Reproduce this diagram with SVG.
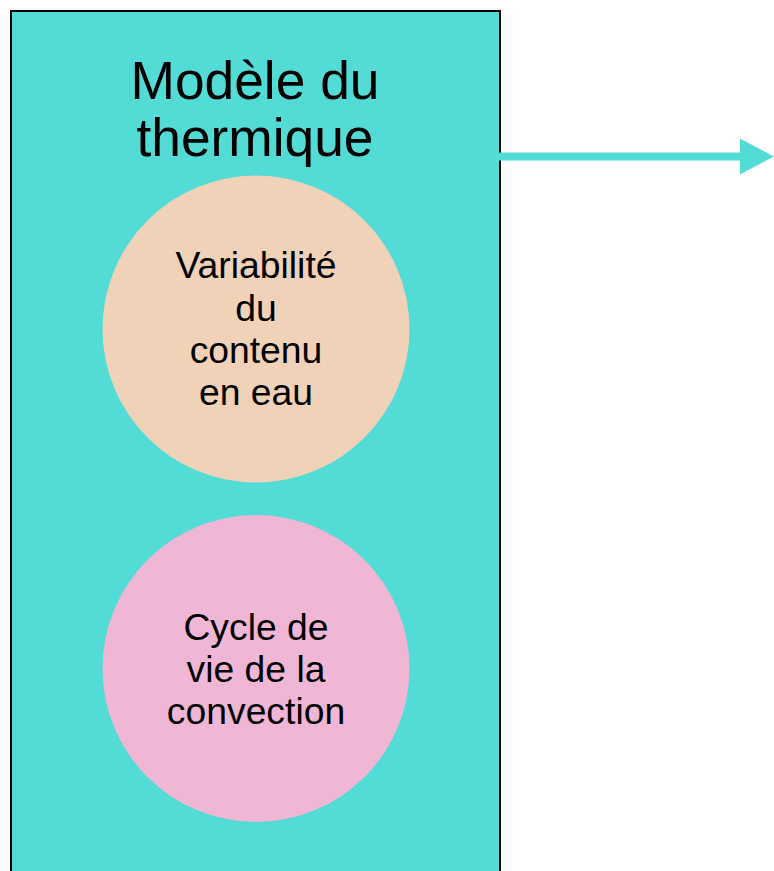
<svg xmlns="http://www.w3.org/2000/svg" width="774" height="871" viewBox="0 0 774 871">
  <style>
    text { font-family: "Liberation Sans", Arial, sans-serif; fill: #000; text-anchor: middle; }
    .title { font-size: 53.3px; }
    .lbl { font-size: 37.3px; }
  </style>
  <defs>
    <marker id="ah" markerUnits="userSpaceOnUse" markerWidth="34" markerHeight="36" refX="0" refY="18" orient="auto">
      <path d="M0,0 L34,18 L0,36 Z" fill="#53dbd6"/>
    </marker>
  </defs>
  <g id="container">
    <rect x="11" y="11" width="489" height="880" fill="#53dbd6" stroke="#000" stroke-width="2"/>
    <text class="title" x="255" y="99">Modèle du</text>
    <text class="title" x="255" y="156">thermique</text>
  </g>
  <g id="node-water">
    <circle cx="256" cy="329" r="153.5" fill="#f0d2b8"/>
    <text class="lbl" x="256" y="278">Variabilité</text>
    <text class="lbl" x="256" y="320.5">du</text>
    <text class="lbl" x="256" y="362.5">contenu</text>
    <text class="lbl" x="256" y="405">en eau</text>
  </g>
  <g id="node-convection">
    <circle cx="256" cy="668.5" r="153.5" fill="#f0b6d6"/>
    <text class="lbl" x="256" y="640">Cycle de</text>
    <text class="lbl" x="256" y="682">vie de la</text>
    <text class="lbl" x="256" y="724">convection</text>
  </g>
  <g id="connectors">
    <line x1="499" y1="156.5" x2="740" y2="156.5" stroke="#53dbd6" stroke-width="8" marker-end="url(#ah)"/>
  </g>
</svg>
